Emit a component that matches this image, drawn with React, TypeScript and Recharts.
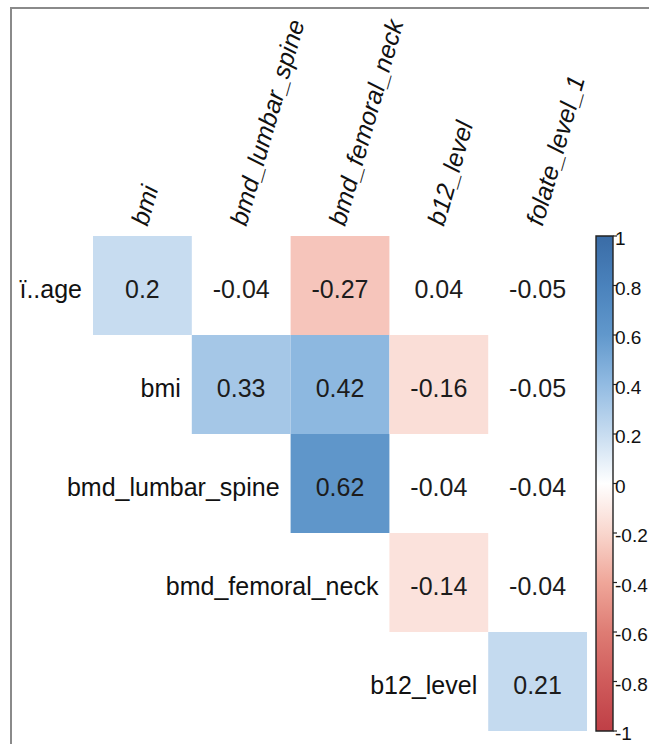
import React from 'react';
import { ScatterChart, Scatter, XAxis, YAxis, ReferenceArea } from 'recharts';

// ---- data ----
const colLabels = ['bmi', 'bmd_lumbar_spine', 'bmd_femoral_neck', 'b12_level', 'folate_level_1'];
const rowLabels = ['ï..age', 'bmi', 'bmd_lumbar_spine', 'bmd_femoral_neck', 'b12_level'];
// upper-triangle correlation values, row by row (row i holds columns i..4)
const rowAge = [0.2, -0.04, -0.27, 0.04, -0.05];
const rowBmi = [0.33, 0.42, -0.16, -0.05];
const rowLumbar = [0.62, -0.04, -0.04];
const rowFemoral = [-0.14, -0.04];
const rowB12 = [0.21];
// whether a cell is coloured (significant)
const sigAge = [true, false, true, false, false];
const sigBmi = [true, true, true, false];
const sigLumbar = [true, false, false];
const sigFemoral = [true, false];
const sigB12 = [true];
const labelAge = ['0.2', '-0.04', '-0.27', '0.04', '-0.05'];
const labelBmi = ['0.33', '0.42', '-0.16', '-0.05'];
const labelLumbar = ['0.62', '-0.04', '-0.04'];
const labelFemoral = ['-0.14', '-0.04'];
const labelB12 = ['0.21'];
const cbTicks = [-1, -0.8, -0.6, -0.4, -0.2, 0, 0.2, 0.4, 0.6, 0.8, 1];
const cbTickLabels = ['-1', '-0.8', '-0.6', '-0.4', '-0.2', '0', '0.2', '0.4', '0.6', '0.8', '1'];
const colorStops: [number, string][] = [
  [-1, '#bf3f46'], [-0.8, '#cf5b5b'], [-0.6, '#de7c74'], [-0.4, '#efa699'], [-0.2, '#f9d6cd'],
  [0, '#ffffff'], [0.2, '#c7dcf0'], [0.4, '#92bbe2'], [0.6, '#6198cc'], [0.8, '#4a82bc'], [1, '#3a6ca6'],
];

// ---- layout ----
const W = 649;
const H = 744;
const PLOT_LEFT = 93;
const PLOT_TOP = 236;
const PLOT_BOTTOM = 731;
const CB_AXIS_W = 36;
const PLOT_RIGHT = W - CB_AXIS_W;
const X_MIN = -0.5;
const X_MAX = 4.763;
const CB_X1 = 4.591;
const CELL_W = (PLOT_RIGHT - PLOT_LEFT) / (X_MAX - X_MIN);
const CELL_H = (PLOT_BOTTOM - PLOT_TOP) / 5;
const FONT = '"Liberation Sans", Arial, Helvetica, sans-serif';

const hexToRgb = (h: string) => [1, 3, 5].map((i) => parseInt(h.slice(i, i + 2), 16));
const colorFor = (v: number) => {
  for (let i = 0; i < colorStops.length - 1; i++) {
    const [a, ca] = colorStops[i];
    const [b, cb] = colorStops[i + 1];
    if (v >= a && v <= b) {
      const t = (v - a) / (b - a);
      const A = hexToRgb(ca);
      const B = hexToRgb(cb);
      const c = A.map((x, k) => Math.round(x + (B[k] - x) * t));
      return `rgb(${c[0]},${c[1]},${c[2]})`;
    }
  }
  return '#ffffff';
};

const rowsVals = [rowAge, rowBmi, rowLumbar, rowFemoral, rowB12];
const rowsSig = [sigAge, sigBmi, sigLumbar, sigFemoral, sigB12];
const rowsLbl = [labelAge, labelBmi, labelLumbar, labelFemoral, labelB12];

const cells = rowsVals.flatMap((vals, r) =>
  vals.map((v, k) => ({ x: r + k, y: r, v, sig: rowsSig[r][k], text: rowsLbl[r][k] }))
);
const rowLabelPts = rowLabels.map((name, i) => ({ x: i, y: i, name }));

const CellShape = (props: any) => {
  const { cx, cy, payload } = props;
  if (cx == null || cy == null) return null;
  return (
    <g>
      {payload.sig && (
        <rect x={cx - CELL_W / 2} y={cy - CELL_H / 2} width={CELL_W} height={CELL_H} fill={colorFor(payload.v)} />
      )}
      <text x={cx} y={cy + 12} textAnchor="middle" fontSize={25} fontFamily={FONT} fill="#1c1c1c">
        {payload.text}
      </text>
    </g>
  );
};

const RowLabelShape = (props: any) => {
  const { cx, cy, payload } = props;
  if (cx == null || cy == null) return null;
  return (
    <text x={cx - CELL_W / 2 - 11} y={cy + 12} textAnchor="end" fontSize={25} fontFamily={FONT} fill="#111">
      {payload.name}
    </text>
  );
};

const ColTick = (props: any) => {
  const { x, y, payload } = props;
  const name = colLabels[payload.value];
  if (name == null) return null;
  const ax = x + 5;
  const ay = y - 1;
  return (
    <text
      x={ax}
      y={ay}
      transform={`rotate(-74 ${ax} ${ay})`}
      textAnchor="start"
      fontSize={25}
      fontStyle="italic"
      fontFamily={FONT}
      fill="#111"
    >
      {name}
    </text>
  );
};

const CbTick = (props: any) => {
  const { x, y, payload } = props;
  const idx = cbTicks.indexOf(payload.value);
  const label = idx >= 0 ? cbTickLabels[idx] : String(payload.value);
  return (
    <text x={x + 1} y={y + 9} textAnchor="start" fontSize={19} fontFamily={FONT} fill="#111">
      {label}
    </text>
  );
};

export default function App() {
  return (
    <div style={{ position: 'absolute', left: 0, top: 0, width: W, height: H, background: '#fff', overflow: 'hidden' }}>
      <div
        style={{
          position: 'absolute',
          left: 10,
          top: 7,
          width: W - 10,
          height: H - 7,
          borderLeft: '2px solid #8a8a8a',
          borderTop: '2px solid #8a8a8a',
          boxSizing: 'border-box',
        }}
      />
      <div style={{ position: 'absolute', left: 0, top: 0 }}>
        <ScatterChart width={W} height={H} margin={{ top: 0, right: 0, bottom: H - PLOT_BOTTOM, left: PLOT_LEFT }}>
          <defs>
            <linearGradient id="cbGrad" x1="0" y1="0" x2="0" y2="1">
              {colorStops
                .slice()
                .reverse()
                .map(([v, c]) => (
                  <stop key={v} offset={`${((1 - v) / 2) * 100}%`} stopColor={c} />
                ))}
            </linearGradient>
          </defs>
          <XAxis
            type="number"
            dataKey="x"
            orientation="top"
            height={PLOT_TOP}
            domain={[X_MIN, X_MAX]}
            ticks={[0, 1, 2, 3, 4]}
            axisLine={false}
            tickLine={false}
            tick={<ColTick />}
            interval={0}
          />
          <YAxis yAxisId="m" type="number" dataKey="y" domain={[-0.5, 4.5]} reversed hide />
          <YAxis
            yAxisId="cb"
            orientation="right"
            type="number"
            domain={[-1, 1]}
            ticks={cbTicks}
            interval={0}
            width={CB_AXIS_W}
            allowDataOverflow
            axisLine={false}
            tickSize={4}
            tickMargin={-3}
            tickLine={{ stroke: '#222', strokeWidth: 1.2 }}
            tick={<CbTick />}
          />
          <ReferenceArea
            yAxisId="cb"
            x1={CB_X1}
            x2={X_MAX}
            y1={-1}
            y2={1}
            fill="url(#cbGrad)"
            fillOpacity={1}
            stroke="#222"
            strokeWidth={1.4}
            ifOverflow="visible"
          />
          <Scatter yAxisId="m" data={cells} shape={CellShape} isAnimationActive={false} />
          <Scatter yAxisId="m" data={rowLabelPts} shape={RowLabelShape} isAnimationActive={false} />
        </ScatterChart>
      </div>
    </div>
  );
}
